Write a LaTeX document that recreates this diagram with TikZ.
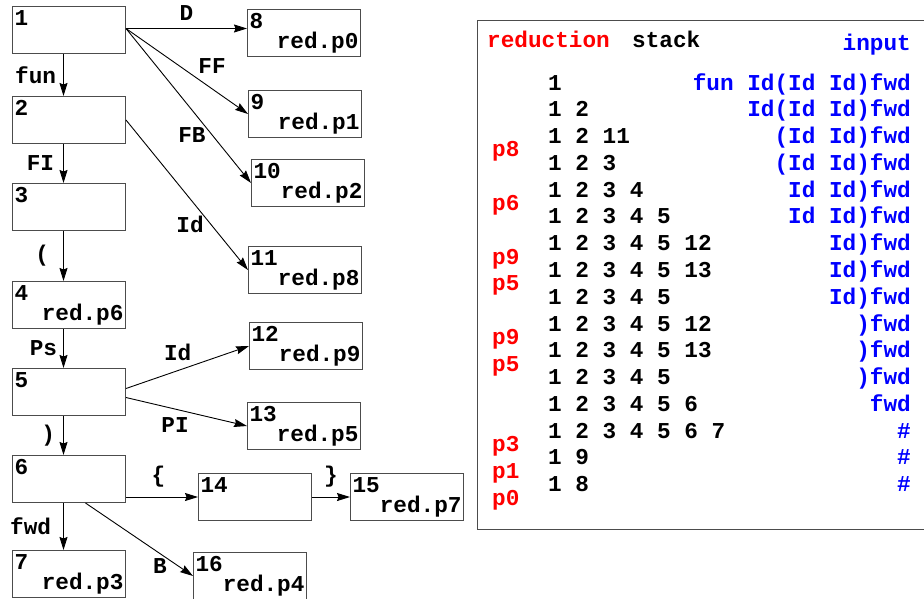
\documentclass[tikz,border=0pt]{standalone}
\usepackage{xcolor}
\usepackage{fontspec}
\setmonofont{Liberation Mono}
\usepackage{tikz}
\usetikzlibrary{arrows.meta,positioning}

\newcommand{\ttb}{\ttfamily\bfseries\fontsize{22.7}{20}\selectfont}
\newcommand{\stbox}[2]{#1\\\hspace*{\fill}#2\vphantom{p}}

\begin{document}
\begin{tikzpicture}[x=1pt,y=-1pt,font=\ttb,
		arrow/.style = {line width=0.9pt,-{Stealth[length=13pt,width=8pt,inset=1.5pt]}}]
				\tikzset{st/.style={draw=black!70,line width=1pt,rectangle,anchor=north west,minimum height=47pt,text width=109pt,inner xsep=2pt,inner ysep=0pt,align=left}}
				\tikzset{lbl/.style={inner sep=0pt}, cell/.style={inner sep=0pt}}

				\useasboundingbox (0,0) rectangle (924,598);

				\node[st] (s1) at (12,6) {\stbox{1}{}};
				\node[st] (s2) at (12,96) {\stbox{2}{}};
				\node[st] (s3) at (12,183) {\stbox{3}{}};
				\node[st] (s4) at (12,281) {\stbox{4}{red.p6}};
				\node[st] (s5) at (12,368) {\stbox{5}{}};
				\node[st] (s6) at (12,455) {\stbox{6}{}};
				\node[st] (s7) at (12,550) {\stbox{7}{red.p3}};

				\node[st] (s8) at (247,9) {\stbox{8}{red.p0}};
				\node[st] (s9) at (248,90) {\stbox{9}{red.p1}};
				\node[st] (s10) at (251,159) {\stbox{10}{red.p2}};
				\node[st] (s11) at (248,246) {\stbox{11}{red.p8}};
				\node[st] (s12) at (249,322) {\stbox{12}{red.p9}};
				\node[st] (s13) at (247,402) {\stbox{13}{red.p5}};
				\node[st] (s14) at (198,473) {\stbox{14}{}};
				\node[st] (s15) at (350,473) {\stbox{15}{red.p7}};
				\node[st] (s16) at (193,552) {\stbox{16}{red.p4}};

				\draw [arrow] ([xshift=-5.5pt]s1.south) -- node [lbl, left=7pt] {fun} ([xshift=-5.5pt]s2.north);
				\draw [arrow] ([xshift=-5.5pt]s2.south) -- node [lbl, left=9pt] {FI} ([xshift=-5.5pt]s3.north);
				\draw [arrow] ([xshift=-5.5pt]s3.south) -- node [lbl, left=14pt] {(} ([xshift=-5.5pt]s4.north);
				\draw [arrow] ([xshift=-5.5pt]s4.south) -- node [lbl, left=6pt] {Ps} ([xshift=-5.5pt]s5.north);
				\draw [arrow] ([xshift=-5.5pt]s5.south) -- node [lbl, left=8pt] {)} ([xshift=-5.5pt]s6.north);
				\draw [arrow] ([xshift=-5.5pt]s6.south) -- node [lbl, left=12pt] {fwd} ([xshift=-5.5pt]s7.north);

				\draw [arrow] ([yshift=1.5pt]s1.east) -- node [lbl, above=8pt] {D} ([yshift=1.5pt]s1.east -| s8.west);
				\draw [arrow] ([yshift=1.5pt]s1.east) -- node [lbl, pos=0.59, anchor=south west, yshift=5pt] {FF} (s9.west);
				\draw [arrow] ([yshift=1.5pt]s1.east) -- node [lbl, pos=0.64, anchor=north east] {FB} (s10.west);
				\draw [arrow] (s2.east) -- node [lbl, pos=0.64, anchor=north east] {Id} (s11.west);
				\draw [arrow] ([yshift=3.5pt]s5.east) -- node [lbl, pos=0.42, above=9pt] {Id} (s12.west);
				\draw [arrow] ([yshift=-5.5pt]s5.east) -- node [lbl, pos=0.405, below=8pt] {PI} (s13.west);
				\draw [arrow] (s6.east |- s14.west) -- node [lbl, pos=0.45, above=9pt] {\{} (s14.west);
				\draw [arrow] (s14.east) -- node [lbl, above=9pt] {\}} (s15.west);
				\draw [arrow] ([xshift=16.5pt]s6.south) -- node [lbl, pos=0.76, anchor=north east] {B} (s16.west);

				\draw [draw=black!70, line width=1pt] (930,20) -- (477,20) -- (477,529) -- (930,529);

				\node[cell, anchor=base west, text=red] (hred) at (487,47) {reduction};
				\node[cell, anchor=base west] (hstack) at (632,47) {stack};
				\node[cell, anchor=base east, text=blue] (hinput) at (911,50) {input};

				\foreach \stk/\inp [count=\i] in {1/{fun Id(Id Id)fwd}, 1 2/{Id(Id Id)fwd}, 1 2 11/{(Id Id)fwd}, 1 2 3/{(Id Id)fwd},
						1 2 3 4/{Id Id)fwd}, 1 2 3 4 5/{Id Id)fwd}, 1 2 3 4 5 12/{Id)fwd}, 1 2 3 4 5 13/{Id)fwd},
						1 2 3 4 5/{Id)fwd}, 1 2 3 4 5 12/{)fwd}, 1 2 3 4 5 13/{)fwd}, 1 2 3 4 5/{)fwd},
						1 2 3 4 5 6/{fwd}, 1 2 3 4 5 6 7/{\#}, 1 9/{\#}, 1 8/{\#}}
				{
					\node[cell, anchor=base west] (stk\i) at (548,{90+26.78*(\i-1)}) {\stk};
					\node[cell, anchor=base east, text=blue] (inp\i) at (911,{90+26.78*(\i-1)}) {\inp};
				}

				\foreach \rd/\k in {p8/3, p6/5, p9/7, p5/8, p9/10, p5/11, p3/14, p1/15, p0/16}
					\node[cell, anchor=base west, text=red] (rd\k) at (492,{90+26.78*(\k-0.5)}) {\rd};

			\end{tikzpicture}
\end{document}
